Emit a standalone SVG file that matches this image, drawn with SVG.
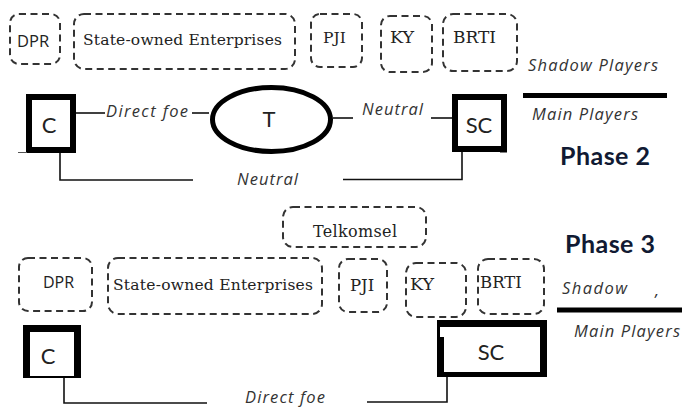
<svg xmlns="http://www.w3.org/2000/svg" width="682" height="407" viewBox="0 0 682 407">
<style>
.dash{fill:none;stroke:#333;stroke-width:2;stroke-dasharray:7 4.5}
.con{fill:none;stroke:#111;stroke-width:1.6}
.sans{font-family:"Open Sans","Liberation Sans",sans-serif;fill:#222}
.serif{font-family:"DejaVu Serif","Liberation Serif",serif;fill:#222}
.lbl{font-family:"Open Sans","Liberation Sans",sans-serif;font-style:italic;fill:#333;font-size:16.5px}
.node{font-family:Lato,"Open Sans","Liberation Sans",sans-serif;fill:#222;font-size:22px;text-anchor:middle}
.phase{font-family:Lato,"Open Sans","Liberation Sans",sans-serif;font-weight:bold;fill:#111a33;font-size:25px}
.thick{stroke:#000;stroke-width:5}
</style>
<rect width="682" height="407" fill="#fff"/>

<!-- Phase 2 shadow players -->
<g id="p2-dpr"><rect class="dash" x="10" y="14" width="50" height="50" rx="9"/><text class="sans" x="17" y="47" font-size="16.5">DPR</text></g>
<g id="p2-soe"><rect class="dash" x="74" y="14" width="221" height="55" rx="10"/><text class="serif" x="83" y="45" font-size="15.5" textLength="199">State-owned Enterprises</text></g>
<g id="p2-pji"><rect class="dash" x="311" y="14" width="51" height="53" rx="9"/><text class="serif" x="323" y="43" font-size="15.5">PJI</text></g>
<g id="p2-ky"><rect class="dash" x="381" y="16" width="51" height="56" rx="9"/><text class="serif" x="390" y="43" font-size="17.5">KY</text></g>
<g id="p2-brti"><rect class="dash" x="443" y="14" width="74" height="57" rx="10"/><text class="serif" x="453" y="43" font-size="17">BRTI</text></g>
<text class="lbl" x="528" y="71" textLength="130">Shadow Players</text>
<line class="thick" x1="523" y1="95.5" x2="667" y2="95.5"/>
<text class="lbl" x="532" y="120" textLength="106">Main Players</text>
<text class="phase" x="560" y="165" textLength="90">Phase 2</text>

<!-- Phase 2 main players -->
<g id="p2-c"><rect x="29" y="97" width="44" height="53" fill="#fff" stroke="#000" stroke-width="6"/><line x1="18" y1="152.5" x2="27" y2="152.5" stroke="#555" stroke-width="1"/><text class="node" x="49" y="133">C</text></g>
<g id="p2-t"><ellipse cx="271.5" cy="119.5" rx="59" ry="32" fill="#fff" stroke="#000" stroke-width="5"/><text class="node" x="269" y="127">T</text></g>
<g id="p2-sc"><rect x="455" y="97" width="49" height="52" fill="#fff" stroke="#000" stroke-width="6"/><line x1="500" y1="151.5" x2="507" y2="151.5" stroke="#000" stroke-width="2"/><text class="node" x="479" y="133">SC</text></g>

<!-- Phase 3 shadow players -->
<g id="p3-telkomsel"><rect class="dash" x="283" y="207" width="143" height="40" rx="10"/><text class="serif" x="313" y="237" font-size="16" textLength="84">Telkomsel</text></g>
<g id="p3-dpr"><rect class="dash" x="19" y="258" width="73" height="53" rx="9"/><text class="sans" x="43" y="288" font-size="16">DPR</text></g>
<g id="p3-soe"><rect class="dash" x="108" y="258" width="214" height="56" rx="10"/><text class="serif" x="113" y="290" font-size="15.5" textLength="200">State-owned Enterprises</text></g>
<g id="p3-pji"><rect class="dash" x="339" y="259" width="48" height="53" rx="9"/><text class="serif" x="350" y="291" font-size="16.5">PJI</text></g>
<g id="p3-ky"><rect class="dash" x="406" y="263" width="60" height="54" rx="10"/><text class="serif" x="410" y="290" font-size="17.5">KY</text></g>
<g id="p3-brti"><rect class="dash" x="478" y="259" width="66" height="55" rx="10"/><text class="serif" x="480" y="288" font-size="16.5">BRTI</text></g>
<text class="phase" x="565" y="253" textLength="90">Phase 3</text>
<text class="lbl" x="562" y="294" textLength="65">Shadow</text>
<text class="lbl" x="655" y="296" font-size="10">,</text>
<line class="thick" x1="557" y1="310" x2="682" y2="310"/>
<text class="lbl" x="574" y="337" textLength="106">Main Players</text>

<!-- Phase 3 main players -->
<g id="p3-c"><rect x="23" y="325" width="58" height="53" fill="#000"/><rect x="30" y="332" width="44" height="44" fill="#fff"/><text class="node" x="48" y="364">C</text></g>
<g id="p3-sc"><rect x="437" y="320" width="110" height="57" fill="#000"/><rect x="444" y="327" width="96" height="45" fill="#fff"/><rect x="440" y="327" width="5" height="10" fill="#fff"/><text class="node" x="491" y="360">SC</text></g>

<!-- connectors -->
<g id="connectors">
<line class="con" x1="76" y1="113" x2="105" y2="113"/>
<text class="lbl" x="106" y="117" textLength="82">Direct foe</text>
<line class="con" x1="192" y1="113" x2="209" y2="113"/>
<line class="con" x1="333" y1="118" x2="353" y2="118"/>
<text class="lbl" x="362" y="115" textLength="61">Neutral</text>
<line class="con" x1="431" y1="118" x2="452" y2="118"/>
<polyline class="con" points="60,153 60,180 193,180"/>
<text class="lbl" x="237" y="185" textLength="61">Neutral</text>
<polyline class="con" points="343,179.5 462,179.5 462,152"/>
<polyline class="con" points="64,378 64,403 207,403"/>
<text class="lbl" x="245" y="403" textLength="80">Direct foe</text>
<polyline class="con" points="367,402 447,402 447,377"/>
</g>
</svg>
